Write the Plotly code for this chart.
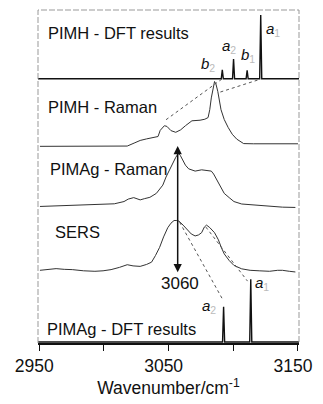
import plotly.graph_objects as go

# ---------------- data ----------------
# PIMH - DFT results (stick spectrum): wavenumber, relative intensity
pimh_dft_wn = [3091.5, 3100.2, 3110.7, 3121.2]
pimh_dft_int = [9, 20, 8.5, 65]
pimh_dft_lab = ["b", "a", "b", "a"]
pimh_dft_sub = ["2", "2", "1", "1"]

# PIMAg - DFT results
pimag_dft_wn = [3092.5, 3113.5]
pimag_dft_int = [36, 64]
pimag_dft_lab = ["a", "a"]
pimag_dft_sub = ["2", "1"]

# PIMH - Raman
pimh_raman_wn = [2950.5, 2973, 2995.5, 3018, 3023.3, 3028, 3033, 3036.8, 3041.8, 3043.5,
                 3046.7, 3048.7, 3051.8, 3055.5, 3059.3, 3063, 3068, 3074.3, 3078, 3080.5,
                 3081.8, 3083, 3084.2, 3085.5, 3086.6, 3088, 3090.5, 3093, 3096, 3099.2,
                 3102.7, 3108, 3115.5, 3150]
pimh_raman_int = [0.2, 0.2, 0.2, 0.5, 3.5, 6.2, 7.8, 8.8, 10.2, 16.5,
                  21.2, 20.5, 16.2, 14.5, 17, 21.2, 26.2, 26.8, 27.8, 29.5,
                  37.5, 49.5, 59.5, 66.2, 63.5, 56.2, 37.5, 27.5, 19.5, 12.5,
                  7.5, 3, 2.8, 2.8]

# PIMAg - Raman
pimag_raman_wn = [2950.5, 2968, 2993, 3008, 3015.5, 3018.8, 3023, 3025.5, 3028, 3031.5,
                  3035.5, 3040.5, 3045.5, 3048, 3050.5, 3053.3, 3055.5, 3057.5, 3059, 3060.5,
                  3063, 3065.5, 3070.5, 3075.5, 3079.5, 3083, 3084.8, 3086.8, 3090, 3093,
                  3096.8, 3100.5, 3106.5, 3113, 3123, 3130.5, 3138, 3148]
pimag_raman_int = [0, 0.7, 1.7, 2.7, 5, 7.5, 9, 7.5, 6.7, 8,
                   9.3, 13.3, 21.7, 30, 36.7, 45, 50, 54, 52, 48.3,
                   42, 38.3, 36, 37.3, 37, 36, 33, 28.3, 20, 13.3,
                   9, 5, 2.5, 1.7, 0.5, 0, -0.7, -1]

# SERS
sers_wn = [2950.5, 2956.5, 2963, 2969.3, 2975.5, 2984.3, 2993, 2999.3, 3005.5, 3012,
           3018, 3022.5, 3028, 3033, 3036.8, 3039.8, 3043, 3046.1, 3049.3, 3051.8,
           3054.2, 3056.3, 3058, 3061.2, 3064.3, 3067.5, 3070.5, 3073.1, 3075.5, 3077.6,
           3079.3, 3081.8, 3085.5, 3088.5, 3090.8, 3093, 3096.8, 3100.5, 3106.5, 3113,
           3120, 3128, 3134.3, 3138, 3143.3, 3148]
sers_int = [0, 1, 1.7, 1, 0.7, -0.5, -1, -0.5, 0.7, 3,
            5.7, 4.5, 4, 6, 8.3, 15, 23.3, 34, 43.3, 48,
            50.7, 50.7, 50, 46, 41.7, 37, 35, 36, 38.3, 44,
            46, 43.5, 38.3, 31, 23, 16.7, 10, 5, 1.5, 0,
            -0.5, -1, 0, 0, -1, -1.7]

panel_names = ["PIMH - DFT results", "PIMH - Raman", "PIMAg - Raman", "SERS", "PIMAg - DFT results"]
marked_wn = 3060
marked_label = "3060"

# ---------------- layout helpers ----------------
X0, X1 = 2949, 3150.8
Y0, Y1 = 0, 339
OFF_PIMH_DFT = 269
OFF_PIMH_RAMAN = 200
OFF_PIMAG_RAMAN = 139
OFF_SERS = 74
OFF_PIMAG_DFT = 1
FONT = "Liberation Sans, Arial, sans-serif"


def sticks(wn, inten, off, hw=0.8):
    xs, ys = [X0], [off]
    for w, h in sorted(zip(wn, inten)):
        xs += [w - hw, w, w + hw]
        ys += [off, off + h, off]
    xs.append(X1)
    ys.append(off)
    return xs, ys


fig = go.Figure()

for wn, it, off in [(pimh_raman_wn, pimh_raman_int, OFF_PIMH_RAMAN),
                    (pimag_raman_wn, pimag_raman_int, OFF_PIMAG_RAMAN),
                    (sers_wn, sers_int, OFF_SERS)]:
    fig.add_trace(go.Scatter(x=wn, y=[v + off for v in it], mode="lines",
                             line=dict(color="#333333", width=1), hoverinfo="skip"))

for wn, it, off in [(pimh_dft_wn, pimh_dft_int, OFF_PIMH_DFT),
                    (pimag_dft_wn, pimag_dft_int, OFF_PIMAG_DFT)]:
    xs, ys = sticks(wn, it, off)
    fig.add_trace(go.Scatter(x=xs, y=ys, mode="lines",
                             line=dict(color="#111111", width=1.4), hoverinfo="skip"))

ann = []
# panel names
name_pos = [(2955, 316), (2955.5, 240.7), (2956.7, 177.3), (2960.5, 113.3), (2954.3, 14)]
for name, (x, y) in zip(panel_names, name_pos):
    ann.append(dict(x=x, y=y, text=name, showarrow=False, xanchor="left", yanchor="middle",
                    font=dict(family=FONT, size=16.5, color="#111111")))

# peak labels
lab_pos_top = [(3080.3, 284), (3096.8, 302), (3111.1, 293), (3130.5, 319)]
lab_pos_bot = [(3081, 37), (3122.2, 61)]
for labs, subs, poss in [(pimh_dft_lab, pimh_dft_sub, lab_pos_top),
                         (pimag_dft_lab, pimag_dft_sub, lab_pos_bot)]:
    for l, s, (x, y) in zip(labs, subs, poss):
        ann.append(dict(x=x, y=y, showarrow=False, xanchor="center", yanchor="middle",
                        text=f"<i>{l}</i><sub><span style='color:#bbbbbb'>{s}</span></sub>",
                        font=dict(family=FONT, size=15, color="#111111")))

# double arrow at 3060
arrow_x = marked_wn - 3
ann.append(dict(x=arrow_x, y=72, ax=arrow_x, ay=202, xref="x", yref="y", axref="x", ayref="y",
                text="", showarrow=True, arrowhead=2, arrowsize=1.1, arrowwidth=1.5,
                arrowside="end+start", arrowcolor="#111111"))
ann.append(dict(x=marked_wn - 1.5, y=61, text=marked_label, showarrow=False,
                font=dict(family=FONT, size=17, color="#111111")))

# dotted guide lines
dots = [((3048.0, 227.3), (3091.5, 269)),
        ((3090.0, 255.5), (3120.8, 268.5)),
        ((3058.5, 123), (3091.5, 45)),
        ((3078.8, 118), (3111, 63))]
shapes = []
for (xa, ya), (xb, yb) in dots:
    shapes.append(dict(type="line", x0=xa, y0=ya, x1=xb, y1=yb, xref="x", yref="y",
                       line=dict(color="#555555", width=1, dash="dot")))
# frame: left, top, right (bottom is the axis line)
shapes.append(dict(type="path", path="M0,0 L0,1 L1,1 L1,0", xref="paper", yref="paper",
                   line=dict(color="#999999", width=1, dash="6px,2px")))

fig.update_layout(
    width=323, height=404,
    margin=dict(l=38, r=16, t=10, b=55),
    paper_bgcolor="white", plot_bgcolor="white",
    showlegend=False,
    annotations=ann, shapes=shapes,
    xaxis=dict(range=[X0, X1], tickvals=[2950, 3000, 3050, 3100, 3150],
               ticktext=["2950", "", "3050", "", "3150"],
               ticks="outside", ticklen=6, tickwidth=1, tickcolor="#111111",
               showline=True, linecolor="#111111", linewidth=1.5, mirror=False,
               showgrid=False, zeroline=False, ticklabelshift=-5,
               tickfont=dict(family=FONT, size=17.5, color="#111111"),
               title=dict(text="Wavenumber/cm<sup>-1</sup>", standoff=6,
                          font=dict(family=FONT, size=17.5, color="#111111"))),
    yaxis=dict(range=[Y0, Y1], visible=False, showgrid=False, zeroline=False),
)

fig.write_html("out.html")
